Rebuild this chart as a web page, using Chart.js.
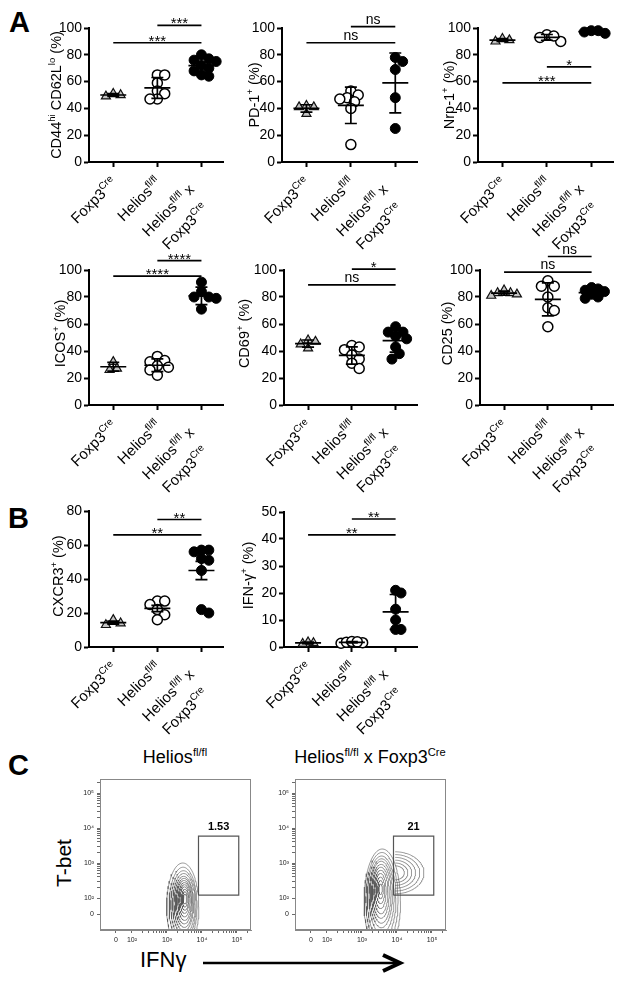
<!DOCTYPE html>
<html><head><meta charset="utf-8">
<script src="https://cdn.jsdelivr.net/npm/chart.js@4.4.1/dist/chart.umd.min.js"></script>
<style>
html,body{margin:0;padding:0;background:#fff;}
body{width:624px;height:982px;position:relative;overflow:hidden;font-family:"Liberation Sans",Arial,Helvetica,sans-serif;}
canvas{position:absolute;}
.t{position:absolute;color:#000;white-space:nowrap;line-height:1;}
.t sup{font-size:62%;vertical-align:0;position:relative;top:-0.62em;}
</style></head><body>
<div class="t" style="left:9px;top:8px;font-size:29px;font-weight:bold;">A</div>
<div class="t" style="left:8px;top:504px;font-size:29px;font-weight:bold;">B</div>
<div class="t" style="left:8px;top:751px;font-size:29px;font-weight:bold;">C</div>
<div class="t" style="left:75px;width:200px;text-align:center;top:748px;font-size:18px;">Helios<sup>fl/fl</sup></div>
<div class="t" style="left:270px;width:200px;text-align:center;top:748px;font-size:18px;">Helios<sup>fl/fl</sup> x Foxp3<sup>Cre</sup></div>
<div class="t" style="left:63px;top:863px;font-size:21px;transform:translate(-50%,-50%) rotate(-90deg);">T-bet</div>
<div class="t" style="left:140px;top:949px;font-size:22px;">IFNγ</div>
<svg style="position:absolute;left:200px;top:950px" width="210" height="26">
  <line x1="3" y1="13" x2="199" y2="13" stroke="#000" stroke-width="2.5"/>
  <polyline points="183,5 200,13 183,21" fill="none" stroke="#000" stroke-width="4" stroke-linejoin="miter"/>
</svg>
<script>
// ---------------- data ----------------
const groupNames = ['Foxp3Cre', 'Heliosfl/fl', 'Heliosfl/fl x Foxp3Cre'];
const cd44Fox = [49, 51, 50];
const cd44Hel = [65, 65, 59, 53, 51, 47, 47];
const cd44Dko = [80, 77, 76, 75, 72, 70, 68, 65, 64];
const pd1Fox = [41, 41, 42, 36];
const pd1Hel = [53, 50, 48, 47, 45, 40, 13];
const pd1Dko = [78, 75, 69, 48, 25];
const nrp1Fox = [90, 91, 92];
const nrp1Hel = [95, 93, 90, 94];
const nrp1Dko = [98, 97, 96, 98];
const icosFox = [32, 27, 26];
const icosHel = [36, 33, 32, 29, 28, 26, 22];
const icosDko = [91, 84, 80, 80, 79, 71];
const cd69Fox = [48, 47, 45, 42];
const cd69Hel = [44, 43, 41, 37, 34, 31, 27];
const cd69Dko = [58, 54, 54, 51, 49, 43, 38, 34];
const cd25Fox = [85, 83, 82, 83, 81];
const cd25Hel = [92, 88, 88, 80, 72, 70, 58];
const cd25Dko = [87, 86, 85, 84, 82, 80, 79];
const cxcr3Fox = [13, 14, 16];
const cxcr3Hel = [27, 27, 25, 22, 19, 16];
const cxcr3Dko = [57, 57, 56, 52, 51, 45, 22, 20];
const ifngFox = [1.5, 1.8, 1.2];
const ifngHel = [1.4, 1.6, 1.8, 2.0, 1.9];
const ifngDko = [21, 20, 14, 10, 6.5, 6.5];

// flow tick labels (biexponential display units)
const flowTickVals = [1.54, 2, 3, 4, 5];
const flowTickText = ['0', '10²', '10³', '10⁴', '10⁵'];
// gate
const gateX = [3.9, 5.05];
const gateY = [2.08, 3.77];
const gateLeftPct = '1.53';
const gateRightPct = '21';
// contour levels (center x, center y, radius x, radius y)
const lCx = [3.45, 3.46, 3.47, 3.48, 3.48, 3.49, 3.49, 3.50, 3.50, 3.50, 3.51, 3.51, 3.51];
const lCy = [1.75, 1.78, 1.80, 1.82, 1.84, 1.86, 1.88, 1.90, 1.92, 1.94, 1.95, 1.96, 1.97];
const lRx = [0.46, 0.40, 0.36, 0.32, 0.28, 0.25, 0.22, 0.19, 0.16, 0.13, 0.10, 0.07, 0.05];
const lRy = [1.25, 1.10, 0.98, 0.88, 0.78, 0.70, 0.62, 0.54, 0.46, 0.38, 0.30, 0.22, 0.14];
const rCx = [3.58, 3.57, 3.56, 3.56, 3.55, 3.55, 3.54, 3.54, 3.53, 3.53, 3.53, 3.53];
const rCy = [1.90, 1.95, 2.00, 2.05, 2.10, 2.12, 2.15, 2.17, 2.20, 2.22, 2.24, 2.25];
const rRx = [0.52, 0.46, 0.41, 0.36, 0.32, 0.28, 0.24, 0.20, 0.16, 0.12, 0.08, 0.05];
const rRy = [1.50, 1.35, 1.20, 1.07, 0.95, 0.84, 0.73, 0.62, 0.50, 0.38, 0.26, 0.15];
const sCx = 3.95, sCy = 2.72;
const sRx = [0.82, 0.70, 0.58, 0.47, 0.36, 0.26];
const sRy = [0.60, 0.52, 0.44, 0.36, 0.28, 0.20];

// ---------------- helpers ----------------
const FONT = '"Liberation Sans", Arial, Helvetica, sans-serif';
const XMIN = 0.45, XMAX = 3.5;
const LABEL_SIZE = 15;
const catLabels = [
  [[{t:'Foxp3'},{t:'Cre',sup:1}]],
  [[{t:'Helios'},{t:'fl/fl',sup:1}]],
  [[{t:'Helios'},{t:'fl/fl',sup:1},{t:' x'}],[{t:'Foxp3'},{t:'Cre',sup:1}]]
];
function richWidth(ctx, segs, size) {
  let w = 0;
  for (const s of segs) { ctx.font = (s.sup ? size*0.66 : size) + 'px ' + FONT; w += ctx.measureText(s.t).width; }
  return w;
}
function drawRich(ctx, segs, x, y, size, align) {
  const w = richWidth(ctx, segs, size);
  let cx = align === 'right' ? x - w : (align === 'center' ? x - w/2 : x);
  ctx.textAlign = 'left'; ctx.textBaseline = 'alphabetic'; ctx.fillStyle = '#000';
  for (const s of segs) {
    const fs = s.sup ? size*0.66 : size;
    ctx.font = fs + 'px ' + FONT;
    ctx.fillText(s.t, cx, s.sup ? y - size*0.4 : y);
    cx += ctx.measureText(s.t).width;
  }
}
function swarm(values, pxX, pxY, minDist) {
  const placed = [], offs = new Array(values.length);
  const order = values.map((v,i)=>i).sort((a,b)=>values[b]-values[a]);
  const step = minDist * 0.5;
  for (const i of order) {
    const yp = values[i]*pxY;
    let chosen = 0;
    for (let k = 0; k < 60; k++) {
      const cand = k === 0 ? 0 : (k % 2 ? 1 : -1) * Math.ceil(k/2) * step;
      let ok = true;
      for (const p of placed) { const dx = cand-p.x, dy = yp-p.y; if (dx*dx+dy*dy < minDist*minDist - 0.01) { ok = false; break; } }
      if (ok) { chosen = cand; break; }
    }
    placed.push({x: chosen, y: yp}); offs[i] = chosen / pxX;
  }
  return offs;
}
function mkCanvas(box) {
  const cv = document.createElement('canvas');
  cv.width = box[2]; cv.height = box[3];
  cv.style.left = box[0]+'px'; cv.style.top = box[1]+'px';
  cv.style.width = box[2]+'px'; cv.style.height = box[3]+'px';
  document.body.appendChild(cv);
  return cv;
}
const pointStyles = [
  {pointStyle:'triangle', pointRadius:5.2, pointBackgroundColor:'#c4c4c4', pointBorderColor:'#111', pointBorderWidth:1.2},
  {pointStyle:'circle', pointRadius:5, pointBackgroundColor:'#fff', pointBorderColor:'#000', pointBorderWidth:1.5},
  {pointStyle:'circle', pointRadius:5, pointBackgroundColor:'#000', pointBorderColor:'#000', pointBorderWidth:1}
];

function makeDot(c) {
  const cv = mkCanvas(c.box);
  const [L,T,R,B] = c.area;
  const pxY = (B-T)/c.ymax, pxX = (R-L)/(XMAX-XMIN);
  const datasets = c.series.map((vals, gi) => {
    const offs = swarm(vals, pxX, pxY, c.minDist || 7.5);
    return Object.assign({ label: groupNames[gi], data: vals.map((v,i)=>({x: gi+1+offs[i], y: v})), clip: false, showLine: false }, pointStyles[gi]);
  });
  const axisGrid = {drawOnChartArea:false, drawTicks:true, tickLength:5, tickColor:'#000', tickWidth:2};
  const axisBorder = {display:true, color:'#000', width:2};
  const deco = {
    id: 'deco_' + c.id,
    afterDatasetsDraw(chart) {
      const ctx = chart.ctx, xs = chart.scales.x, ys = chart.scales.y, ca = chart.chartArea;
      ctx.save();
      ctx.strokeStyle = '#000'; ctx.lineWidth = 1.7; ctx.lineCap = 'butt';
      c.series.forEach((vals, gi) => {
        const n = vals.length, m = vals.reduce((a,b)=>a+b,0)/n;
        const sd = Math.sqrt(vals.reduce((a,b)=>a+(b-m)*(b-m),0)/(n-1));
        const e = c.err === 'sem' ? sd/Math.sqrt(n) : sd;
        const x = xs.getPixelForValue(gi+1), ym = ys.getPixelForValue(m);
        const yh = ys.getPixelForValue(m+e), yl = ys.getPixelForValue(m-e);
        ctx.beginPath();
        ctx.moveTo(x-13, ym); ctx.lineTo(x+13, ym);
        ctx.moveTo(x, yh); ctx.lineTo(x, yl);
        ctx.moveTo(x-6, yh); ctx.lineTo(x+6, yh);
        ctx.moveTo(x-6, yl); ctx.lineTo(x+6, yl);
        ctx.stroke();
      });
      ctx.lineWidth = 1.7;
      c.sig.forEach(s => {
        const x1 = xs.getPixelForValue(s.a), x2 = xs.getPixelForValue(s.b), y = ys.getPixelForValue(s.y);
        ctx.beginPath(); ctx.moveTo(x1, y); ctx.lineTo(x2, y); ctx.stroke();
        ctx.fillStyle = '#000'; ctx.textAlign = 'center'; ctx.textBaseline = 'alphabetic';
        if (s.t === 'ns') { ctx.font = '14px ' + FONT; ctx.fillText('ns', (x1+x2)/2, y - 3); }
        else { ctx.font = '15px ' + FONT; ctx.fillText(s.t, (x1+x2)/2, y + 3); }
      });
      ctx.save();
      ctx.translate(ca.left - c.tdx, (ca.top+ca.bottom)/2 + (c.tdy||0));
      ctx.rotate(-Math.PI/2);
      drawRich(ctx, c.title, 0, 5, 14.5, 'center');
      ctx.restore();
      catLabels.forEach((lines, i) => {
        const tx = xs.getPixelForValue(i+1), ay = ca.bottom;
        const anchors = lines.length === 1 ? [[tx+1, ay+18]] : [[tx-10, ay+25], [tx+4, ay+44]];
        lines.forEach((segs, li) => {
          ctx.save();
          ctx.translate(anchors[li][0], anchors[li][1]);
          ctx.rotate(-Math.PI/4);
          drawRich(ctx, segs, 0, 5, LABEL_SIZE, 'right');
          ctx.restore();
        });
      });
      ctx.restore();
    }
  };
  new Chart(cv, {
    type: 'scatter',
    data: {datasets},
    options: {
      responsive: false, animation: false, devicePixelRatio: 1,
      layout: {padding: {top: T - c.box[1], right: c.box[0]+c.box[2]-R, left: 0, bottom: 0}},
      plugins: {legend: {display:false}, tooltip: {enabled:false}},
      scales: {
        x: {type:'linear', min: XMIN, max: XMAX,
            afterBuildTicks: s => { s.ticks = [1,2,3].map(v => ({value:v})); },
            afterFit: s => { s.height = c.box[1]+c.box[3]-B; },
            ticks: {callback: () => '', autoSkip:false, maxRotation:0},
            grid: axisGrid, border: axisBorder},
        y: {type:'linear', min:0, max:c.ymax,
            ticks: {stepSize:c.ystep, color:'#000', font:{family:FONT, size:14}, padding:2},
            afterFit: s => { s.width = L - c.box[0]; },
            grid: axisGrid, border: axisBorder}
      }
    },
    plugins: [deco]
  });
}

const dotCharts = [
  {id:'c1', box:[36,4,194,256], area:[89,28,226,162], ymax:100, ystep:20, series:[cd44Fox,cd44Hel,cd44Dko], err:'sd', tdx:33,
   title:[{t:'CD44'},{t:'hi',sup:1},{t:' CD62L'},{t:'lo',sup:1},{t:' (%)'}],
   sig:[{a:2,b:3,y:102,t:'***'},{a:1,b:3,y:89,t:'***'}]},
  {id:'c2', box:[236,4,188,256], area:[282,28,420,162], ymax:100, ystep:20, series:[pd1Fox,pd1Hel,pd1Dko], err:'sd', tdx:28,
   title:[{t:'PD-1'},{t:'+',sup:1},{t:' (%)'}],
   sig:[{a:2,b:3,y:101,t:'ns'},{a:1,b:3,y:89,t:'ns'}]},
  {id:'c3', box:[432,4,188,256], area:[478,28,615,162], ymax:100, ystep:20, series:[nrp1Fox,nrp1Hel,nrp1Dko], err:'sd', tdx:29, minDist:7,
   title:[{t:'Nrp-1'},{t:'+',sup:1},{t:' (%)'}],
   sig:[{a:2,b:3,y:71,t:'*'},{a:1,b:3,y:59,t:'***'}]},
  {id:'c4', box:[36,240,194,263], area:[89,270,226,405], ymax:100, ystep:20, series:[icosFox,icosHel,icosDko], err:'sd', tdx:29, tdy:-4,
   title:[{t:'ICOS'},{t:'+',sup:1},{t:' (%)'}],
   sig:[{a:2,b:3,y:107,t:'****'},{a:1,b:3,y:95.5,t:'****'}]},
  {id:'c5', box:[236,240,188,263], area:[284,270,420,405], ymax:100, ystep:20, series:[cd69Fox,cd69Hel,cd69Dko], err:'sd', tdx:40, tdy:-4,
   title:[{t:'CD69'},{t:'+',sup:1},{t:' (%)'}],
   sig:[{a:2,b:3,y:100.7,t:'*'},{a:1,b:3,y:89,t:'ns'}]},
  {id:'c6', box:[432,240,188,263], area:[480,270,615,405], ymax:100, ystep:20, series:[cd25Fox,cd25Hel,cd25Dko], err:'sd', tdx:33, tdy:-4, minDist:6.5,
   title:[{t:'CD25 (%)'}],
   sig:[{a:2,b:3,y:110,t:'ns'},{a:1,b:3,y:98.5,t:'ns'}]},
  {id:'c7', box:[36,496,194,249], area:[89,511,226,647], ymax:80, ystep:20, series:[cxcr3Fox,cxcr3Hel,cxcr3Dko], err:'sem', tdx:31, tdy:-3,
   title:[{t:'CXCR3'},{t:'+',sup:1},{t:' (%)'}],
   sig:[{a:2,b:3,y:75,t:'**'},{a:1,b:3,y:66,t:'**'}]},
  {id:'c8', box:[236,496,188,249], area:[284,512,420,647], ymax:50, ystep:10, series:[ifngFox,ifngHel,ifngDko], err:'sd', tdx:36, tdy:-4, minDist:5.5,
   title:[{t:'IFN-γ'},{t:'+',sup:1},{t:' (%)'}],
   sig:[{a:2,b:3,y:47.4,t:'**'},{a:1,b:3,y:41.5,t:'**'}]}
];
dotCharts.forEach(makeDot);

// ---------------- flow plots ----------------
function ellipse(cx, cy, rx, ry, a0, a1) {
  const pts = [], n = 90;
  for (let k = 0; k <= n; k++) {
    const a = a0 + (a1-a0)*k/n;
    pts.push({x: cx + rx*Math.cos(a), y: cy + ry*Math.sin(a)});
  }
  return pts;
}
function flowTicks() {
  const t = flowTickVals.map(v => ({value:v}));
  for (let k = 2; k <= 5; k++) for (let m = 2; m <= 9; m++) { const v = k + Math.log10(m); if (v < 5.38) t.push({value:v}); }
  return t.sort((a,b)=>a.value-b.value);
}
function makeFlow(box, area, contours, pct) {
  const cv = mkCanvas(box);
  const [L,T,R,B] = area;
  const datasets = contours.map(pts => ({data: pts, showLine:true, pointRadius:0, borderColor:'#444', borderWidth:0.55, fill:false, tension:0}));
  datasets.push({data: [{x:gateX[0],y:gateY[0]},{x:gateX[1],y:gateY[0]},{x:gateX[1],y:gateY[1]},{x:gateX[0],y:gateY[1]},{x:gateX[0],y:gateY[0]}],
    showLine:true, pointRadius:0, borderColor:'#555', borderWidth:1.2, fill:false, tension:0});
  const fgrid = {drawOnChartArea:false, drawTicks:true, tickLength:3, tickColor:'#444', tickWidth:0.8};
  const fborder = {display:true, color:'#888', width:1};
  const tickCb = v => { const i = flowTickVals.indexOf(v); return i >= 0 ? flowTickText[i] : ''; };
  const deco = {
    id: 'flowdeco',
    afterDraw(chart) {
      const ctx = chart.ctx, ca = chart.chartArea, xs = chart.scales.x, ys = chart.scales.y;
      ctx.save();
      ctx.strokeStyle = '#888'; ctx.lineWidth = 1;
      ctx.strokeRect(ca.left+0.5, ca.top+0.5, ca.right-ca.left-1, ca.bottom-ca.top-1);
      ctx.fillStyle = '#000'; ctx.font = 'bold 11px ' + FONT; ctx.textAlign = 'center'; ctx.textBaseline = 'alphabetic';
      ctx.fillText(pct, (xs.getPixelForValue(gateX[0]) + xs.getPixelForValue(gateX[1]))/2, ys.getPixelForValue(gateY[1]) - 6);
      ctx.restore();
    }
  };
  new Chart(cv, {
    type: 'scatter',
    data: {datasets},
    options: {
      responsive:false, animation:false, devicePixelRatio:1,
      layout: {padding: {top: T - box[1], right: box[0]+box[2]-R, left:0, bottom:0}},
      plugins: {legend:{display:false}, tooltip:{enabled:false}},
      scales: {
        x: {type:'linear', min:1.086, max:5.4, afterBuildTicks: s => { s.ticks = flowTicks(); },
            afterFit: s => { s.height = box[1]+box[3]-B; },
            ticks: {callback: tickCb, autoSkip:false, maxRotation:0, color:'#222', font:{family:FONT, size:7}, padding:3},
            grid: fgrid, border: fborder},
        y: {type:'linear', min:1.086, max:5.4, afterBuildTicks: s => { s.ticks = flowTicks(); },
            afterFit: s => { s.width = L - box[0]; },
            ticks: {callback: tickCb, autoSkip:false, color:'#222', font:{family:FONT, size:7}, padding:3},
            grid: fgrid, border: fborder}
      }
    },
    plugins: [deco]
  });
}
const leftContours = lCx.map((cx,i) => ellipse(cx, lCy[i], lRx[i], lRy[i], 0, 2*Math.PI));
const rightContours = rCx.map((cx,i) => ellipse(cx, rCy[i], rRx[i], rRy[i], 0, 2*Math.PI))
  .concat(sRx.map((rx,i) => ellipse(sCx, sCy, rx, sRy[i], -Math.PI/2, Math.PI/2)));
makeFlow([70,770,187,186], [100,779,251,930], leftContours, gateLeftPct);
makeFlow([265,770,187,186], [295,779,446,930], rightContours, gateRightPct);
</script>
</body></html>
